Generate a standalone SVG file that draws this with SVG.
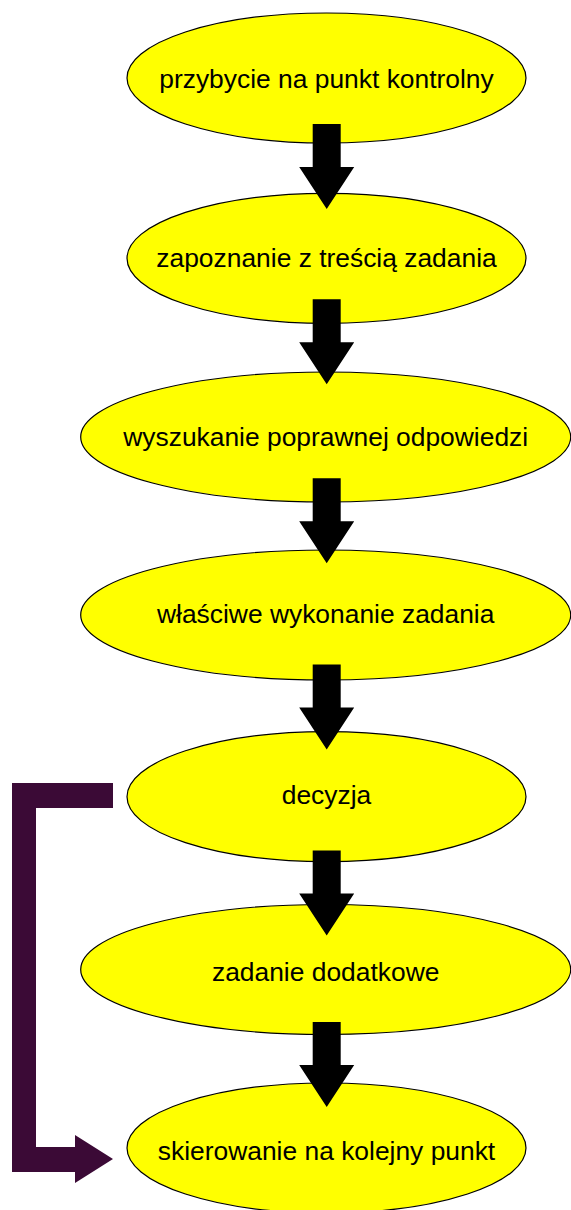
<svg xmlns="http://www.w3.org/2000/svg" width="571" height="1210" viewBox="0 0 571 1210">
  <defs>
    <style>
      .node ellipse { fill: #ffff00; stroke: #000000; stroke-width: 1.2; }
      .node text { font-family: "Liberation Sans", Arial, sans-serif; font-size: 26.4px; fill: #000000; text-anchor: middle; }
      .down { fill: #000000; }
      .back { fill: #3b0a36; }
    </style>
    <!-- block arrow pointing down, origin at the top centre of its shaft -->
    <polygon id="downArrow" points="-14,0 14,0 14,43 27.5,43 0,85 -27.5,43 -14,43"/>
  </defs>

  <g id="n1" class="node">
    <ellipse cx="326.5" cy="78" rx="199.5" ry="65"/>
    <text x="326.5" y="88">przybycie na punkt kontrolny</text>
  </g>
  <g id="n2" class="node">
    <ellipse cx="326.5" cy="258.3" rx="199.5" ry="65"/>
    <text x="326.5" y="267">zapoznanie z treścią zadania</text>
  </g>
  <g id="n3" class="node">
    <ellipse cx="325.7" cy="437" rx="245" ry="65"/>
    <text x="325.7" y="446">wyszukanie poprawnej odpowiedzi</text>
  </g>
  <g id="n4" class="node">
    <ellipse cx="325.7" cy="615" rx="245" ry="65"/>
    <text x="325.7" y="623">właściwe wykonanie zadania</text>
  </g>
  <g id="n5" class="node">
    <ellipse cx="326.5" cy="796.7" rx="199.5" ry="65"/>
    <text x="326.5" y="804">decyzja</text>
  </g>
  <g id="n6" class="node">
    <ellipse cx="325.7" cy="969.5" rx="245" ry="65"/>
    <text x="325.7" y="981">zadanie dodatkowe</text>
  </g>
  <g id="n7" class="node">
    <ellipse cx="326.5" cy="1148" rx="199.5" ry="65"/>
    <text x="326.5" y="1160">skierowanie na kolejny punkt</text>
  </g>

  <g id="connectors">
    <use href="#downArrow" class="down" x="326.7" y="124"/>
    <use href="#downArrow" class="down" x="326.7" y="299.3"/>
    <use href="#downArrow" class="down" x="326.7" y="478.3"/>
    <use href="#downArrow" class="down" x="326.7" y="664.5"/>
    <use href="#downArrow" class="down" x="326.7" y="850.5"/>
    <use href="#downArrow" class="down" x="326.7" y="1022"/>
    <!-- return path from "decyzja" down the left side to the last step -->
    <polygon class="back" points="113,783 12,783 12,1172 75,1172 75,1183 113,1159 75,1135 75,1147 36,1147 36,808 113,808"/>
  </g>
</svg>
